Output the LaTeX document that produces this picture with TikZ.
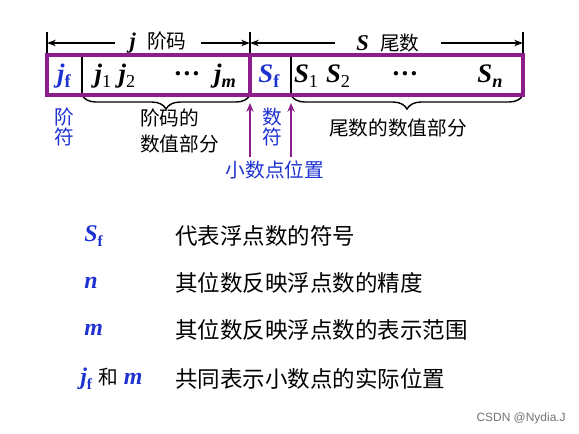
\documentclass[tikz,border=0pt]{standalone}
\usepackage{fontspec}
\usepackage{tikz}
\usetikzlibrary{arrows.meta,decorations.pathreplacing}
\setmainfont{Liberation Serif}
\newfontfamily\cjk{Noto Sans CJK SC}
\newfontfamily\wmfont{Liberation Sans}
\definecolor{boxpurple}{RGB}{140,30,140}
\definecolor{signblue}{RGB}{30,50,210}
\newcommand\bi[1]{\textbf{\textit{#1}}}
\newcommand\lo[1]{\raisebox{-.45ex}{\fontsize{13}{13}\selectfont #1}}
\newcommand\los[1]{\raisebox{-.45ex}{\fontsize{11}{11}\selectfont #1}}

\begin{document}
\begin{tikzpicture}[x=0.025cm,y=-0.025cm]
\tikzset{celltext/.style={inner sep=0pt,font=\fontsize{19}{19}\selectfont},
         dimlabel/.style={inner sep=0pt,fill=white,font=\fontsize{16}{16}\selectfont},
         note/.style={inner sep=0pt,align=center,font=\cjk\fontsize{14}{18}\selectfont},
         legend/.style={anchor=west,inner sep=0pt,font=\fontsize{17}{17}\selectfont},
         dimarrow/.style={-{Stealth[length=2.2mm,width=1.6mm]},line width=0.9pt},
         tickline/.style={line width=0.9pt},
         divline/.style={line width=1pt},
         bracebelow/.style={line width=1pt,decorate,decoration={brace,mirror,amplitude=10}},
         pointer/.style={-{Stealth[length=2.2mm,width=1.8mm]},boxpurple,line width=1.2pt}}
\useasboundingbox (0,0) rectangle (579,434);

% corners and dividers of the word
\coordinate (lefttop) at (47,55);
\coordinate (rightbot) at (523,95);
\coordinate (jmidtop) at (82,55);
\coordinate (jmidbot) at (82,95);
\coordinate (cuttop) at (250,55);
\coordinate (cutbot) at (250,95);
\coordinate (smidtop) at (291,55);
\coordinate (smidbot) at (291,95);

% ticks and dimension arrows
\coordinate (tickA) at (47,32);
\coordinate (tickB) at (250,32);
\coordinate (tickC) at (523,32);
\draw[tickline] (tickA) -- (lefttop);
\draw[tickline] (tickB) -- (cuttop);
\draw[tickline] (tickC) -- (523,55);
\node[dimlabel,inner xsep=10pt] (jlab) at (158,43) {\bi{j}\ \ {\cjk\fontsize{14}{14}\selectfont 阶码}};
\node[dimlabel,inner xsep=15pt] (slab) at (388,43) {\bi{S}\ \ {\cjk\fontsize{14}{14}\selectfont 尾数}};
\draw[dimarrow] (jlab.west) -- (47,43);
\draw[dimarrow] (jlab.east) -- (250,43);
\draw[dimarrow] (slab.west) -- (250,43);
\draw[dimarrow] (slab.east) -- (523,43);

% braces and inner dividers
\draw[divline] (jmidtop) -- (jmidbot);
\draw[divline] (smidtop) -- (smidbot);
\draw[bracebelow] (jmidbot) -- (cutbot);
\draw[bracebelow] (smidbot) -- (523,95);

% the word itself
\draw[boxpurple,line width=2.2pt] (lefttop) rectangle (rightbot);
\draw[boxpurple,line width=2.6pt] (cuttop) -- (cutbot);

% cell contents
\node[celltext,text=signblue] (jf) at (64,76) {\bi{j}\lo{\textbf{f}}};
\node[celltext] (j1) at (103,76) {\bi{j}\lo{1}};
\node[celltext] (j2) at (127,76) {\bi{j}\lo{2}};
\node[celltext] (jdots) at (187,74) {\textbf{…}};
\node[celltext] (jm) at (225,76) {\bi{j}\lo{\bi{m}}};
\node[celltext,text=signblue] (sf) at (269,76) {\bi{S}\lo{\textbf{f}}};
\node[celltext] (s1) at (306,76) {\bi{S}\lo{1}};
\node[celltext] (s2) at (338,76) {\bi{S}\lo{2}};
\node[celltext] (sdots) at (405,74) {\textbf{…}};
\node[celltext] (sn) at (490,76) {\bi{S}\lo{\bi{n}}};

% notes below the word
\node[note,text=signblue,font=\cjk\fontsize{14}{12.5}\selectfont] (jsign) at (64,127) {阶\\符};
\node[note,align=left,anchor=west] (jval) at (140,131) {阶码的\\数值部分};
\node[note,text=signblue,font=\cjk\fontsize{14}{12.5}\selectfont] (ssign) at (272,127) {数\\符};
\node[note] (sval) at (398,128) {尾数的数值部分};
\node[note,text=signblue] (point) at (275,170) {小数点位置};
\draw[pointer] (250,157) -- (250,103);
\draw[pointer] (291,157) -- (291,103);

% legend
\node[legend,text=signblue] (keysf) at (84,236) {\bi{S}\los{\textbf{f}}};
\node[legend,text=signblue] (keyn) at (84,283) {\bi{n}};
\node[legend,text=signblue] (keym) at (84,330) {\bi{m}};
\node[legend] (keyjm) at (80,379) {\textcolor{signblue}{\bi{j}\los{\textbf{f}}}\ {\cjk\fontsize{14}{14}\selectfont 和}\ \textcolor{signblue}{\bi{m}}};
\node[legend,font=\cjk\fontsize{16}{16}\selectfont] (txtsf) at (175,236) {代表浮点数的符号};
\node[legend,font=\cjk\fontsize{16}{16}\selectfont] (txtn) at (175,283) {其位数反映浮点数的精度};
\node[legend,font=\cjk\fontsize{16}{16}\selectfont] (txtm) at (175,330) {其位数反映浮点数的表示范围};
\node[legend,font=\cjk\fontsize{16}{16}\selectfont] (txtjm) at (175,379) {共同表示小数点的实际位置};

% watermark
\node[inner sep=0pt,anchor=east,text=black!55,font=\wmfont\fontsize{8.5}{8.5}\selectfont] (mark) at (566,418) {CSDN @Nydia.J};
\end{tikzpicture}
\end{document}
